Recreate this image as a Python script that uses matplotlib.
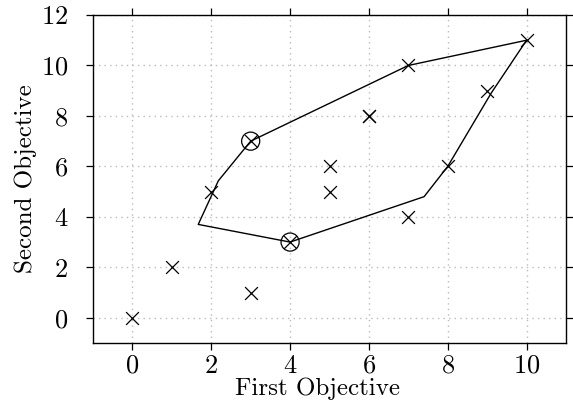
import numpy as np
import matplotlib.pyplot as plt

plt.rcParams['font.family'] = 'cmr10'
plt.rcParams['mathtext.fontset'] = 'cm'
plt.rcParams['axes.formatter.use_mathtext'] = True

# candidate points
px = [0, 1, 2, 3, 3, 4, 5, 5, 6, 6, 7, 7, 8, 9, 10]
py = [0, 2, 5, 1, 7, 3, 5, 6, 8, 8, 4, 10, 6, 9, 11]

# circled points
cx = [3, 4]
cy = [7, 3]

# boundary curve
bx = [10, 9.1, 8, 7.4, 4, 1.67, 2.18, 3, 7, 10]
by = [11, 8.9, 6, 4.8, 3, 3.7, 5.43, 7, 10, 11]

fig = plt.figure(figsize=(5.73, 4.08), dpi=100)
ax = fig.add_axes([93/573, 65/408, 473/573, 328/408])

ax.plot(bx, by, color='black', lw=1.0, zorder=2)
ax.scatter(px, py, marker='x', s=85, color='black', linewidths=0.9, zorder=3)
ax.scatter(cx, cy, marker='o', s=170, facecolors='none', edgecolors='black', linewidths=0.9, zorder=3)

ax.set_xlim(-1, 11)
ax.set_ylim(-1, 12)
ax.set_xticks([0, 2, 4, 6, 8, 10])
ax.set_yticks([0, 2, 4, 6, 8, 10, 12])
ax.tick_params(direction='out', top=True, right=True, length=5, labelsize=19, width=0.9)
ax.tick_params(axis='x', pad=3)
ax.tick_params(axis='y', pad=13)
ax.grid(True, linestyle=(0, (1, 3)), color='#bbbbbb', linewidth=1.0)
for s in ax.spines.values():
    s.set_linewidth(1.0)

ax.set_xlabel('First Objective', fontsize=18)
ax.xaxis.set_label_coords(0.474, -0.105)
ax.set_ylabel('Second Objective', fontsize=18, labelpad=3)

fig.savefig('out.png', dpi=100)
